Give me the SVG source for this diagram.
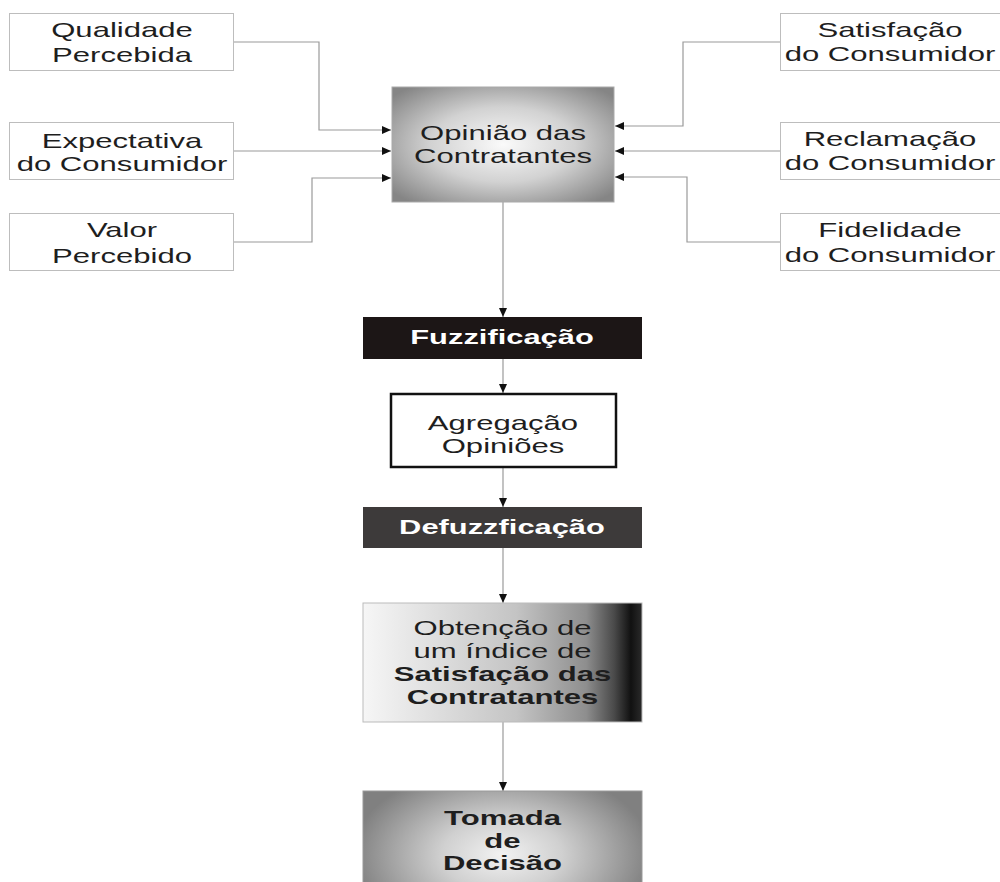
<svg xmlns="http://www.w3.org/2000/svg" width="1000" height="882" viewBox="0 0 1000 882">
<defs>
<style>
.t{font-family:"Liberation Sans",Arial,sans-serif;font-size:21px;fill:#1e1e1e;text-anchor:middle}
.b{font-weight:bold}
.w{fill:#fff}
.in{fill:#fff;stroke:#bdbdbd;stroke-width:1}
.con{fill:none;stroke:#9a9a9a;stroke-width:1.2}
</style>
<marker id="ah" markerUnits="userSpaceOnUse" markerWidth="9" markerHeight="8" refX="9" refY="4" orient="auto">
<path d="M0,0 L9,4 L0,8 z" fill="#111"/>
</marker>
<radialGradient id="gOp" cx="50%" cy="50%" r="65%">
<stop offset="0" stop-color="#fafafa"/>
<stop offset="0.5" stop-color="#d2d2d2"/>
<stop offset="1" stop-color="#858585"/>
</radialGradient>
<linearGradient id="gOb" x1="0" y1="0" x2="1" y2="0">
<stop offset="0" stop-color="#f6f6f6"/>
<stop offset="0.55" stop-color="#c4c4c4"/>
<stop offset="0.8" stop-color="#8e8e8e"/>
<stop offset="0.9" stop-color="#4a4a4a"/>
<stop offset="0.96" stop-color="#111"/>
<stop offset="1" stop-color="#2a2a2a"/>
</linearGradient>
<radialGradient id="gTo" gradientUnits="userSpaceOnUse" cx="0" cy="0" r="1" gradientTransform="translate(502,855) scale(150,90)">
<stop offset="0" stop-color="#f2f2f2"/>
<stop offset="0.4" stop-color="#d0d0d0"/>
<stop offset="1" stop-color="#808080"/>
</radialGradient>
</defs>
<rect width="1000" height="882" fill="#fff"/>

<g id="connectors">
<polyline class="con" points="233,42 319,42 319,130 391,130" marker-end="url(#ah)"/>
<polyline class="con" points="233,151 391,151" marker-end="url(#ah)"/>
<polyline class="con" points="233,242 312,242 312,178 391,178" marker-end="url(#ah)"/>
<polyline class="con" points="780,42 683,42 683,126 615,126" marker-end="url(#ah)"/>
<polyline class="con" points="780,151 615,151" marker-end="url(#ah)"/>
<polyline class="con" points="780,242 687,242 687,177 615,177" marker-end="url(#ah)"/>
<line class="con" x1="503" y1="202" x2="503" y2="317" marker-end="url(#ah)"/>
<line class="con" x1="503" y1="359" x2="503" y2="393" marker-end="url(#ah)"/>
<line class="con" x1="503" y1="468" x2="503" y2="507" marker-end="url(#ah)"/>
<line class="con" x1="503" y1="548" x2="503" y2="603" marker-end="url(#ah)"/>
<line class="con" x1="503" y1="722" x2="503" y2="791" marker-end="url(#ah)"/>
</g>

<g id="qualidade">
<rect class="in" x="9.5" y="13.5" width="224" height="57"/>
<text class="t" transform="translate(122,0) scale(1.48,1)"><tspan x="0" y="37">Qualidade</tspan><tspan x="0" y="62">Percebida</tspan></text>
</g>
<g id="expectativa">
<rect class="in" x="9.5" y="122.5" width="224" height="57"/>
<text class="t" transform="translate(122,0) scale(1.48,1)"><tspan x="0" y="148">Expectativa</tspan><tspan x="0" y="171">do Consumidor</tspan></text>
</g>
<g id="valor">
<rect class="in" x="9.5" y="213.5" width="224" height="57"/>
<text class="t" transform="translate(122,0) scale(1.48,1)"><tspan x="0" y="237">Valor</tspan><tspan x="0" y="263">Percebido</tspan></text>
</g>

<g id="satisfacao">
<rect class="in" x="780.5" y="13.5" width="230" height="57"/>
<text class="t" transform="translate(890,0) scale(1.48,1)"><tspan x="0" y="37">Satisfação</tspan><tspan x="0" y="61">do Consumidor</tspan></text>
</g>
<g id="reclamacao">
<rect class="in" x="780.5" y="122.5" width="230" height="57"/>
<text class="t" transform="translate(890,0) scale(1.48,1)"><tspan x="0" y="146">Reclamação</tspan><tspan x="0" y="170">do Consumidor</tspan></text>
</g>
<g id="fidelidade">
<rect class="in" x="780.5" y="213.5" width="230" height="57"/>
<text class="t" transform="translate(890,0) scale(1.48,1)"><tspan x="0" y="237">Fidelidade</tspan><tspan x="0" y="262">do Consumidor</tspan></text>
</g>

<g id="opiniao">
<rect x="392" y="87" width="222" height="115" fill="url(#gOp)" stroke="#aaa" stroke-width="1"/>
<text class="t" transform="translate(503,0) scale(1.48,1)"><tspan x="0" y="140">Opinião das</tspan><tspan x="0" y="163">Contratantes</tspan></text>
</g>

<g id="fuzzificacao">
<rect x="363" y="317" width="279" height="42" fill="#1c1616"/>
<text class="t b w" transform="translate(502,0) scale(1.47,1)"><tspan x="0" y="344">Fuzzificação</tspan></text>
</g>

<g id="agregacao">
<rect x="391" y="394" width="225" height="73" fill="#fff" stroke="#111" stroke-width="2.5"/>
<text class="t" transform="translate(503,0) scale(1.48,1)"><tspan x="0" y="430">Agregação</tspan><tspan x="0" y="453">Opiniões</tspan></text>
</g>

<g id="defuzzificacao">
<rect x="363" y="507" width="279" height="41" fill="#3d3a3a"/>
<text class="t b w" transform="translate(502,0) scale(1.47,1)"><tspan x="0" y="534">Defuzzficação</tspan></text>
</g>

<g id="obtencao">
<rect x="363" y="603" width="279" height="119" fill="url(#gOb)" stroke="#bbb" stroke-width="1"/>
<text class="t" transform="translate(502.5,0) scale(1.48,1)"><tspan x="0" y="635">Obtenção de</tspan><tspan x="0" y="658">um índice de</tspan><tspan x="0" y="681" class="b">Satisfação das</tspan><tspan x="0" y="704" class="b">Contratantes</tspan></text>
</g>

<g id="tomada">
<rect x="363" y="791" width="279" height="100" fill="url(#gTo)" stroke="#999" stroke-width="1"/>
<text class="t b" transform="translate(502.5,0) scale(1.48,1)"><tspan x="0" y="825">Tomada</tspan><tspan x="0" y="848">de</tspan><tspan x="0" y="870">Decisão</tspan></text>
</g>
</svg>
